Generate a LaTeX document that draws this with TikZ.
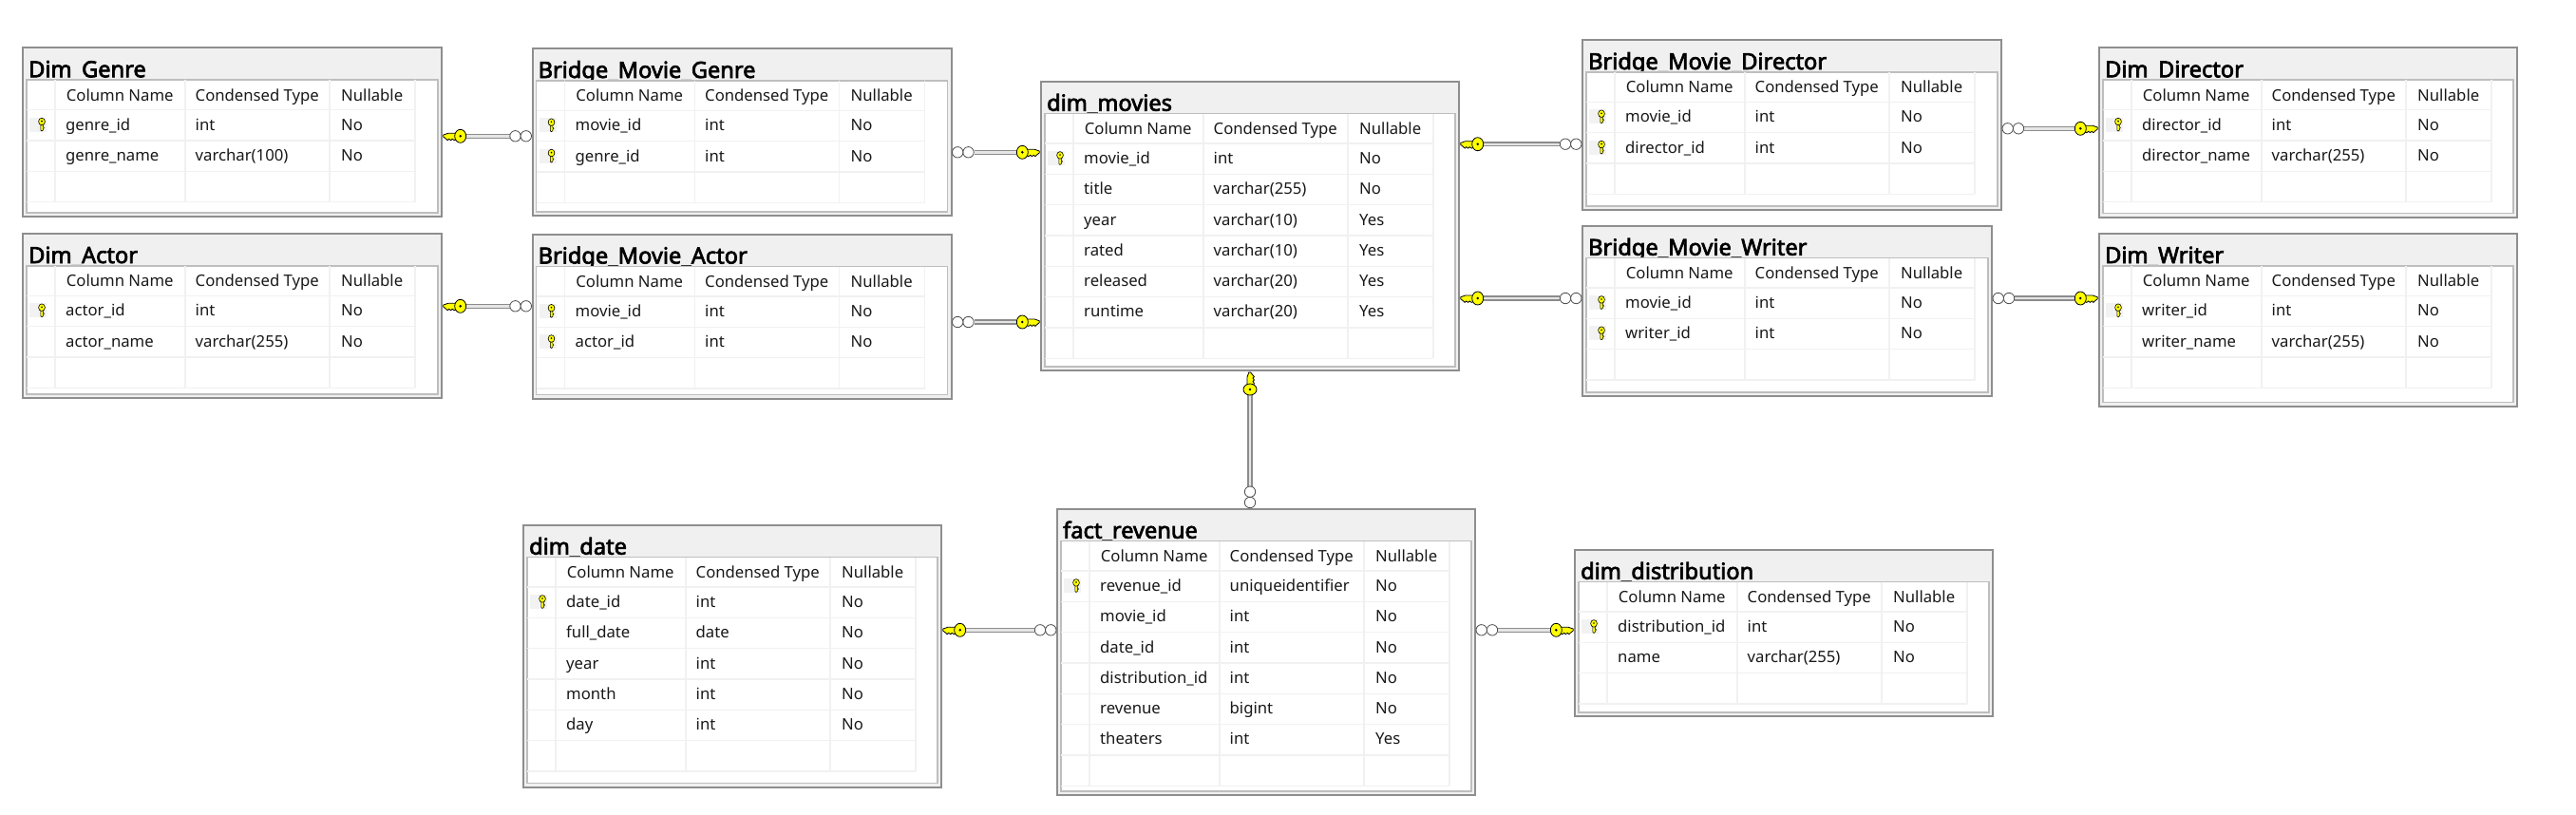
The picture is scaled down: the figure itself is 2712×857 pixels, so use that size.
\documentclass[tikz,border=0pt]{standalone}
\usepackage{fontspec}
\setmainfont{Noto Sans}
\newfontfamily\titlefont[FakeBold=3]{Noto Sans}
\usetikzlibrary{decorations.markings}

\definecolor{framegray}{HTML}{8E8E8E}
\definecolor{panelgray}{HTML}{BEBEBE}
\definecolor{bandgray}{HTML}{F0F0F0}
\definecolor{linegray}{HTML}{F1F1F1}
\definecolor{keyyellow}{HTML}{FFFF00}

\def\keyflip{1}
\newcommand{\linkkey}{%
    \begin{scope}[yscale=\keyflip]
        \fill[keyyellow, draw=black, line width=.8pt] (-3,3) -- (-13,3) -- (-18,1.2) -- (-18,-.6) -- (-15,-3) -- (-13.5,-4.4)
            -- (-12,-3) -- (-10,-4.4) -- (-8.5,-3) -- (-6.5,-4.4) -- (-3,-3) -- cycle;
        \fill[keyyellow, draw=black, line width=.8pt] (0,0) ellipse (6 and 7);
        \fill[black] (0,0) circle (1.4);
    \end{scope}}
\newcommand{\rowkey}{%
    \fill[black!5] (8,-7.5) rectangle (26,7.5);
    \fill[keyyellow, draw=black, line width=.6pt] (19.8,2) -- (19.8,-6) -- (21,-7) -- (22.4,-6) -- (22.4,-4.6) -- (23.4,-3.6)
        -- (22.4,-2.6) -- (22.4,2) -- cycle;
    \fill[keyyellow, draw=black, line width=.6pt] (21,3) ellipse (3.4 and 3.8);
    \fill[black] (21,3.4) circle (.9);}

\tikzset{
    tablebox/.style={rectangle, draw=framegray, line width=2pt, fill=bandgray, anchor=north west, inner sep=0pt},
    tablegrid/.style={rectangle, draw=panelgray, line width=1.6pt, fill=white, anchor=north west, inner sep=0pt},
    tabletitle/.style={anchor=base west, inner sep=0pt, font=\titlefont\fontsize{23.6}{25}\selectfont},
    cellhead/.style={anchor=base west, inner sep=0pt, text=black!90, font=\fontsize{16.7}{20}\selectfont},
    celltext/.style={anchor=base west, inner sep=0pt, text=black!90, font=\fontsize{16.7}{20}\selectfont},
    gridline/.style={draw=linegray, line width=1.4pt},
    manyend/.style={draw=black!70, fill=white, line width=.8pt},
    relation/.style={draw=black!45, double=black!10, double distance=2.4pt, line width=1.5pt,
        shorten <=25pt, shorten >=23pt,
        postaction={decorate},
        decoration={markings,
            mark=at position 18.7pt with {\linkkey},
            mark=at position -17pt with {\draw[manyend] (0,0) circle (5.7);},
            mark=at position -5.7pt with {\draw[manyend] (0,0) circle (5.7);}}},
    flipped/.code={\def\keyflip{-1}}
}

\newcommand{\dbtable}[9]{%
    \begin{scope}[shift={(#2,#3)}]
        \node[tablebox, minimum width=#4pt, minimum height=#5pt] (#1) at (0,0) {};
        \node[tabletitle] (#1-title) at (7,-32) {#6};
        \node[tablegrid, minimum width={#4pt-8pt}, minimum height={#5pt-38pt}] (#1-grid) at (4,-34) {};
        \pgfmathsetmacro{\gridend}{-66.4-32.3*(#8+1)}
        \foreach \colx in {35,172,324,414}
            \draw[gridline] (\colx,-35) -- (\colx,\gridend);
        \draw[gridline] (5,-66.4) -- (414,-66.4);
        \foreach \rowno in {0,...,#8}
            \draw[gridline] (5,-98.7-32.3*\rowno) -- (414,-98.7-32.3*\rowno);
        \node[cellhead] (#1-head-name) at (46.7,-56.7) {Column Name};
        \node[cellhead] (#1-head-type) at (182.5,-56.7) {Condensed Type};
        \node[cellhead] (#1-head-null) at (336,-56.7) {Nullable};
        \foreach \colname/\coltype/\colnull [count=\rowno] in {#9} {
            \pgfmathsetmacro{\rowy}{-87.7-32.3*(\rowno-1)}
            \node[celltext] (#1-\rowno-name) at (46,\rowy) {\colname};
            \node[celltext] (#1-\rowno-type) at (182.5,\rowy) {\coltype};
            \node[celltext] (#1-\rowno-null) at (336,\rowy) {\colnull};
            \ifnum\rowno>#7\else
                \begin{scope}[shift={(0,\rowy+6)}]
                    \rowkey
                \end{scope}
            \fi
        }
    \end{scope}}

\begin{document}
\begin{tikzpicture}[x=1pt, y=1pt]
    \useasboundingbox (0,0) rectangle (2712,-857);

    \dbtable{genre}{23}{-49.3}{441}{178}{Dim\_Genre}{1}{2}{genre\_id/int/No, genre\_name/varchar(100)/No}
    \dbtable{actor}{23}{-245}{441}{173}{Dim\_Actor}{1}{2}{actor\_id/int/No, actor\_name/varchar(255)/No}
    \dbtable{bgenre}{559.5}{-50}{441}{176}{Bridge\_Movie\_Genre}{2}{2}{movie\_id/int/No, genre\_id/int/No}
    \dbtable{bactor}{559.5}{-245.5}{441}{173}{Bridge\_Movie\_Actor}{2}{2}{movie\_id/int/No, actor\_id/int/No}
    \dbtable{movies}{1095}{-84.7}{440}{304.6}{dim\_movies}{1}{6}{movie\_id/int/No, title/varchar(255)/No, year/varchar(10)/Yes, rated/varchar(10)/Yes, released/varchar(20)/Yes, runtime/varchar(20)/Yes}
    \dbtable{bdirector}{1665}{-41}{441}{179.3}{Bridge\_Movie\_Director}{2}{2}{movie\_id/int/No, director\_id/int/No}
    \dbtable{bwriter}{1665}{-236.7}{431}{179.3}{Bridge\_Movie\_Writer}{2}{2}{movie\_id/int/No, writer\_id/int/No}
    \dbtable{director}{2209}{-49.3}{440}{178.4}{Dim\_Director}{1}{2}{director\_id/int/No, director\_name/varchar(255)/No}
    \dbtable{writer}{2209}{-245}{440}{181.7}{Dim\_Writer}{1}{2}{writer\_id/int/No, writer\_name/varchar(255)/No}
    \dbtable{date}{550}{-551.7}{440}{276}{dim\_date}{1}{5}{date\_id/int/No, full\_date/date/No, year/int/No, month/int/No, day/int/No}
    \dbtable{fact}{1112}{-534.7}{440}{301.3}{fact\_revenue}{1}{6}{revenue\_id/uniqueidentifier/No, movie\_id/int/No, date\_id/int/No, distribution\_id/int/No, revenue/bigint/No, theaters/int/Yes}
    \dbtable{distribution}{1657}{-577.7}{440}{175.6}{dim\_distribution}{1}{2}{distribution\_id/int/No, name/varchar(255)/No}

    \draw[relation] (genre.east |- 0,-143.3) to (bgenre.west |- 0,-143.3);
    \draw[relation] (actor.east |- 0,-322.3) to (bactor.west |- 0,-322.3);
    \draw[relation, flipped] (movies.west |- 0,-160.3) to (bgenre.east |- 0,-160.3);
    \draw[relation, flipped] (movies.west |- 0,-339) to (bactor.east |- 0,-339);
    \draw[relation] (movies.east |- 0,-151.7) to (bdirector.west |- 0,-151.7);
    \draw[relation] (movies.east |- 0,-314) to (bwriter.west |- 0,-314);
    \draw[relation, flipped] (director.west |- 0,-135.3) to (bdirector.east |- 0,-135.3);
    \draw[relation, flipped] (writer.west |- 0,-314) to (bwriter.east |- 0,-314);
    \draw[relation, flipped] (movies.south) to (movies.south |- fact.north);
    \draw[relation] (date.east |- 0,-663.3) to (fact.west |- 0,-663.3);
    \draw[relation, flipped] (distribution.west |- 0,-663.3) to (fact.east |- 0,-663.3);
\end{tikzpicture}
\end{document}
